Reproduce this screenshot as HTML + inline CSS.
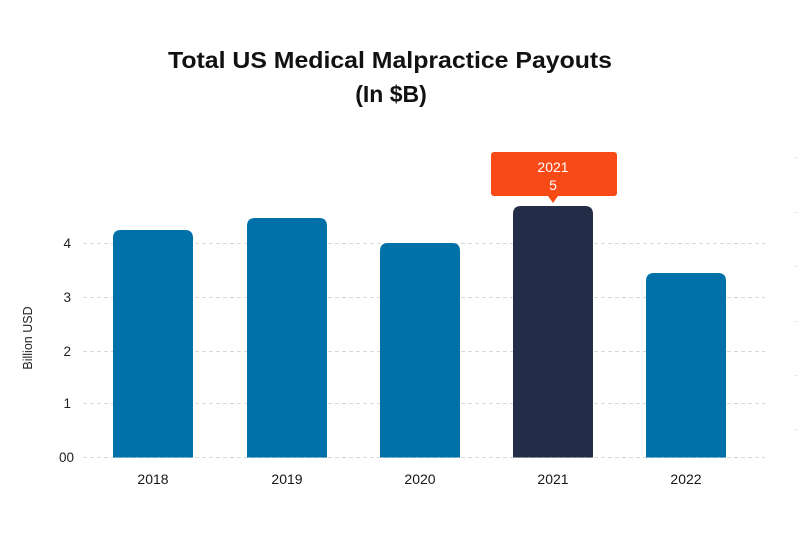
<!DOCTYPE html>
<html>
<head>
<meta charset="utf-8">
<style>
  html,body{margin:0;padding:0;background:#fff;}
  body{width:800px;height:545px;overflow:hidden;font-family:"Liberation Sans",sans-serif;}
  svg{display:block;}
</style>
</head>
<body>
<svg width="800" height="545" viewBox="0 0 800 545" xmlns="http://www.w3.org/2000/svg">
  <rect width="800" height="545" fill="#fff"/>
  <!-- Title -->
  <text x="390" y="68" text-anchor="middle" font-family="Liberation Sans, sans-serif" font-weight="bold" font-size="23" fill="#111" textLength="444" lengthAdjust="spacingAndGlyphs">Total US Medical Malpractice Payouts</text>
  <text x="391" y="102" text-anchor="middle" font-family="Liberation Sans, sans-serif" font-weight="bold" font-size="23" fill="#111">(In $B)</text>

  <!-- gridlines -->
  <g stroke="#d9d9d9" stroke-width="1" stroke-dasharray="4,3">
    <line x1="83" y1="243.5" x2="765" y2="243.5"/>
    <line x1="83" y1="297.5" x2="765" y2="297.5"/>
    <line x1="83" y1="351.5" x2="765" y2="351.5"/>
    <line x1="83" y1="403.5" x2="765" y2="403.5"/>
    <line x1="83" y1="457.5" x2="765" y2="457.5"/>
  </g>
  <!-- faint right marks -->
  <g fill="#e6e6e6">
    <rect x="794" y="157" width="3" height="1"/>
    <rect x="794" y="212" width="3" height="1"/>
    <rect x="794" y="266" width="3" height="1"/>
    <rect x="794" y="321" width="3" height="1"/>
    <rect x="794" y="375" width="3" height="1"/>
    <rect x="794" y="429" width="3" height="1"/>
  </g>

  <!-- y labels -->
  <g font-family="Liberation Sans, sans-serif" font-size="13.5" fill="#222" text-anchor="end">
    <text x="71" y="248">4</text>
    <text x="71" y="302">3</text>
    <text x="71" y="356">2</text>
    <text x="71" y="408">1</text>
    <text x="74" y="462">00</text>
  </g>
  <text transform="translate(32,338) rotate(-90)" text-anchor="middle" font-family="Liberation Sans, sans-serif" font-size="12.5" fill="#222">Billion USD</text>

  <!-- bars -->
  <path d="M113,457.5 V238 Q113,230 121,230 H185 Q193,230 193,238 V457.5 Z" fill="#0070a8"/>
  <path d="M247,457.5 V226 Q247,218 255,218 H319 Q327,218 327,226 V457.5 Z" fill="#0070a8"/>
  <path d="M380,457.5 V251 Q380,243 388,243 H452 Q460,243 460,251 V457.5 Z" fill="#0070a8"/>
  <path d="M513,457.5 V214 Q513,206 521,206 H585 Q593,206 593,214 V457.5 Z" fill="#232d48"/>
  <path d="M646,457.5 V281 Q646,273 654,273 H718 Q726,273 726,281 V457.5 Z" fill="#0070a8"/>

  <!-- x labels -->
  <g font-family="Liberation Sans, sans-serif" font-size="14" fill="#161616" text-anchor="middle">
    <text x="153" y="484">2018</text>
    <text x="287" y="484">2019</text>
    <text x="420" y="484">2020</text>
    <text x="553" y="484">2021</text>
    <text x="686" y="484">2022</text>
  </g>

  <!-- tooltip -->
  <rect x="491" y="152" width="126" height="44" rx="3" ry="3" fill="#f84a17"/>
  <path d="M548,196 L553,203 L558,196 Z" fill="#f84a17"/>
  <g font-family="Liberation Sans, sans-serif" font-size="14" fill="#fff" text-anchor="middle">
    <text x="553" y="172">2021</text>
    <text x="553" y="190">5</text>
  </g>
</svg>
</body>
</html>
